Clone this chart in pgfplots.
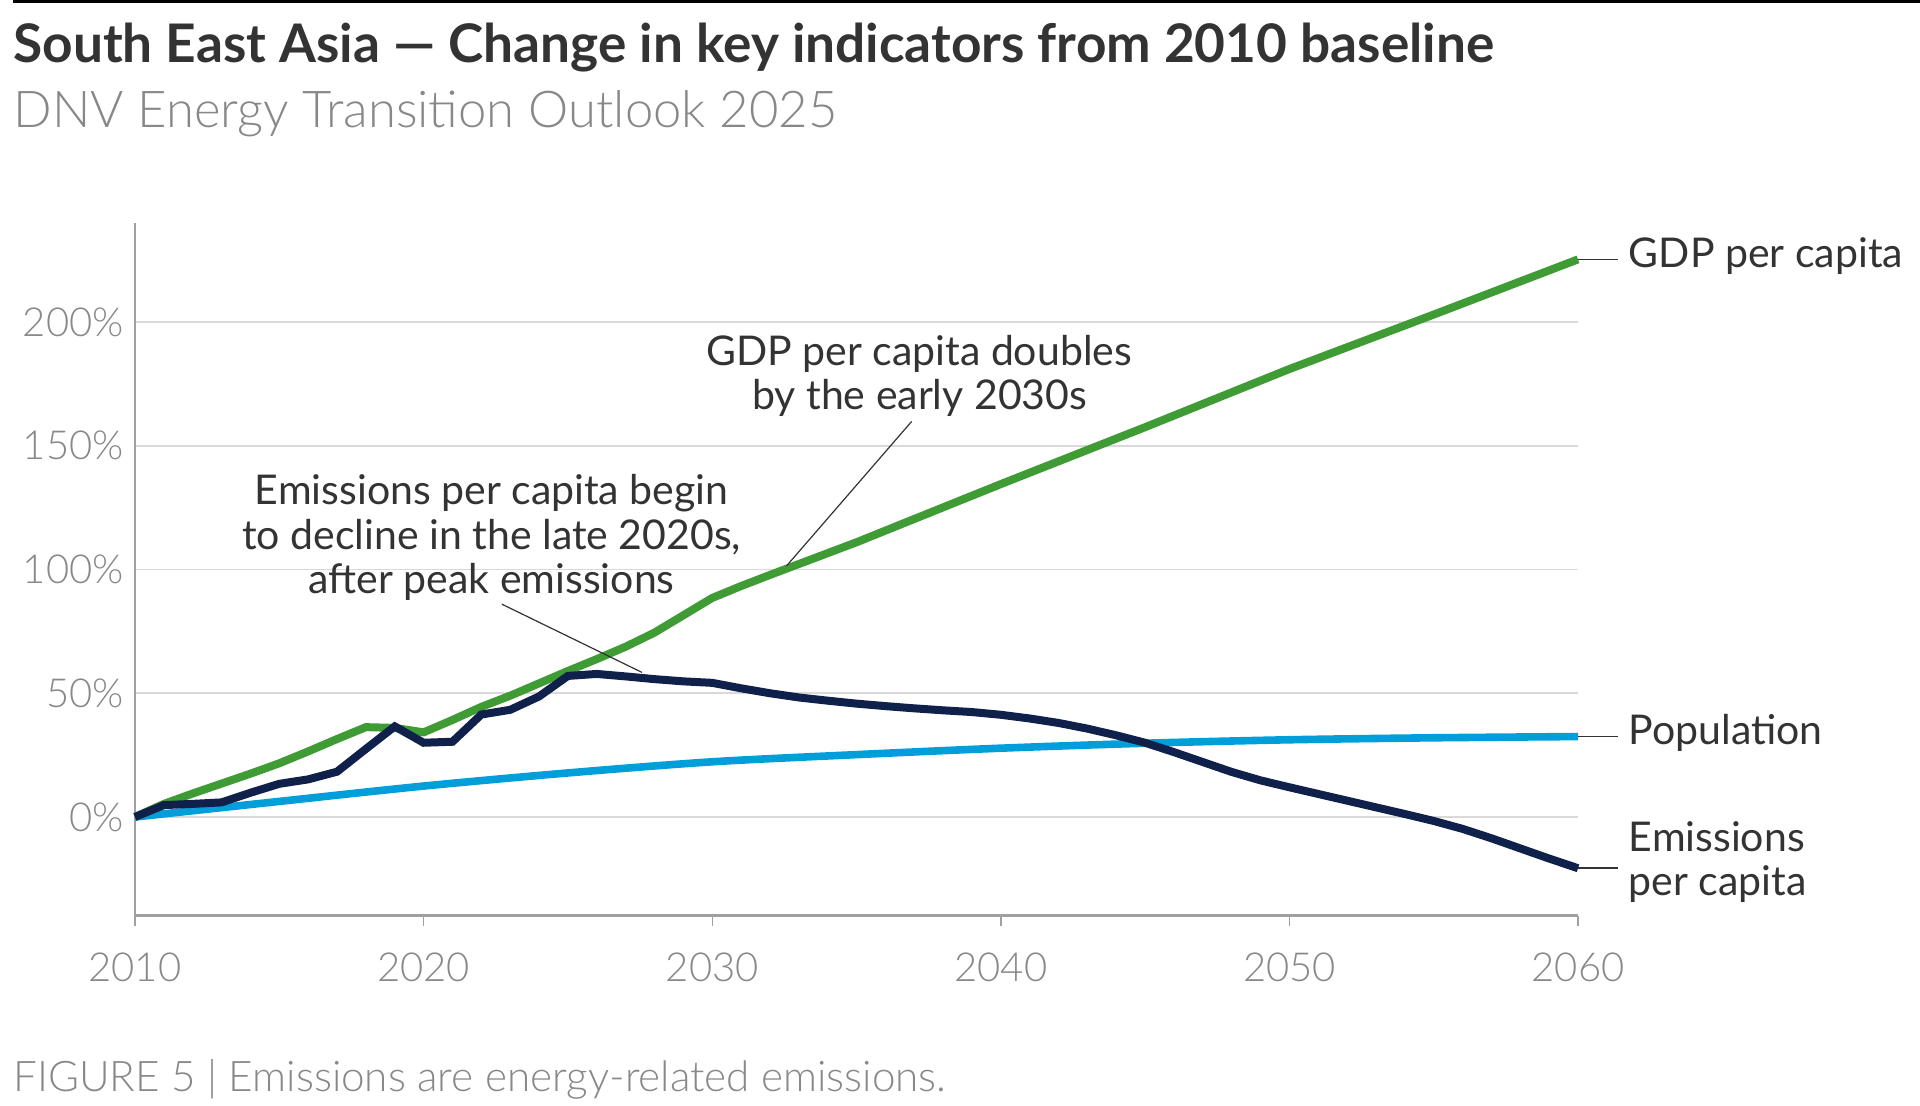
\documentclass[border=0pt]{standalone}
\usepackage{fontspec}
\setmainfont{Lato}
\IfFontExistsTF{Lato Light}{\newfontfamily\lightfont{Lato Light}}{\newfontfamily\lightfont{Lato}}
\usepackage{pgfplots}
\pgfplotsset{compat=1.18}

\definecolor{gdp}{HTML}{3F9C35}
\definecolor{pop}{HTML}{009FDA}
\definecolor{emis}{HTML}{0F204B}
\definecolor{txt}{HTML}{333333}
\definecolor{ticktxt}{HTML}{888888}
\definecolor{gridc}{HTML}{D9D9D9}
\definecolor{axisc}{HTML}{A0A0A0}

\tikzset{lbl/.style={inner sep=0pt, text=txt, font=\fontsize{20.5}{24}\selectfont}}

\pgfplotstableread{
year gdp
2010 0
2011 5.3
2012 9.5
2013 13.5
2014 17.5
2015 21.7
2016 26.5
2017 31.5
2018 36.3
2019 36.0
2020 34.2
2021 39.2
2022 44.5
2023 49.0
2024 54.0
2025 59.0
2026 63.8
2027 68.8
2028 74.5
2029 81.5
2030 88.5
2031 93.3
2032 97.8
2033 102.2
2034 106.6
2035 111.0
2040 134.5
2045 157.5
2050 181.0
2055 203.0
2060 225.3
}\gdptab

\pgfplotstableread{
year pop
2010 0
2015 6.3
2020 12.5
2025 17.8
2030 22.3
2035 25.2
2040 27.8
2045 29.8
2050 31.2
2055 32.0
2060 32.5
}\poptab

\pgfplotstableread{
year emis
2010 0
2011 4.8
2012 5.3
2013 5.9
2014 9.8
2015 13.4
2016 15.2
2017 18.3
2018 27.5
2019 36.6
2020 30.0
2021 30.4
2022 41.4
2023 43.3
2024 48.7
2025 57.0
2026 57.8
2027 56.8
2028 55.7
2029 54.8
2030 54.2
2031 52.0
2032 50.0
2033 48.3
2034 47.0
2035 45.8
2036 44.8
2037 43.9
2038 43.1
2039 42.4
2040 41.3
2041 39.8
2042 38.0
2043 35.7
2044 33.0
2045 30.0
2046 26.2
2047 22.2
2048 18.2
2049 14.8
2050 12.0
2051 9.3
2052 6.6
2053 3.9
2054 1.2
2055 -1.6
2056 -4.8
2057 -8.6
2058 -12.7
2059 -16.8
2060 -20.7
}\emistab

\begin{document}
\begin{tikzpicture}
\path[use as bounding box] (0,0) rectangle (960pt,553pt);
\draw[line width=1.5pt, black] (6.5pt,552.25pt) -- (960pt,552.25pt);

\node[anchor=base west, inner sep=0pt, text=txt, font=\fontsize{26.6}{30}\selectfont\bfseries]
  at (6.5pt,521.5pt) {South East Asia — Change in key indicators from 2010 baseline};
\node[anchor=base west, inner sep=0pt, text=ticktxt, font=\lightfont\fontsize{25.4}{30}\selectfont]
  at (6.5pt,489pt) {DNV Energy Transition Outlook 2025};
\node[anchor=base west, inner sep=0pt, text=ticktxt, font=\lightfont\fontsize{21.1}{24}\selectfont]
  at (6.5pt,7.2pt) {FIGURE 5 | Emissions are energy-related emissions.};

\begin{axis}[
    at={(67.5pt,95pt)}, anchor=south west,
    scale only axis, width=721.5pt, height=346.5pt,
    xmin=2010, xmax=2060, ymin=-40, ymax=240,
    axis x line=bottom, axis y line=left,
    x axis line style={-, draw=axisc, line width=1.5pt},
    y axis line style={-, draw=axisc, line width=0.7pt},
    xtick={2010,2020,...,2060},
    ytick={0,50,...,200},
    tick align=outside,
    xtick style={draw=axisc, line width=0.7pt},
    ytick style={draw=none},
    major tick length=5pt,
    ymajorgrids,
    grid style={draw=gridc, line width=0.8pt},
    /pgf/number format/assume math mode=true,
    /pgf/number format/1000 sep={},
    yticklabel={\pgfmathprintnumber{\tick}\%},
    ticklabel style={font=\lightfont\fontsize{20}{24}\selectfont, text=ticktxt},
    yticklabel style={anchor=east, inner sep=0pt, xshift=-0.5pt},
    xticklabel style={anchor=north, inner sep=0pt, yshift=-13pt},
    clip=false,
]
\addplot[draw=pop, line width=3.8pt, smooth, tension=0.5] table[x=year, y=pop] {\poptab};
\addplot[draw=gdp, line width=4pt] table[x=year, y=gdp] {\gdptab};
\addplot[draw=emis, line width=4pt] table[x=year, y=emis] {\emistab};

% leaders to the right-hand labels
\draw[txt, line width=0.7pt] (axis cs:2060,225.2) -- (axis cs:2061.39,225.2);
\draw[txt, line width=0.7pt] (axis cs:2060,32.5) -- (axis cs:2061.39,32.5);
\draw[txt, line width=0.7pt] (axis cs:2060,-20.64) -- (axis cs:2061.39,-20.64);
\node[lbl, anchor=base west] at (axis cs:2061.75,222.06) {GDP per capita};
\node[lbl, anchor=base west] at (axis cs:2061.75,29.36) {Population};
\node[lbl, anchor=base west] at (axis cs:2061.75,-14.0) {Emissions};
\node[lbl, anchor=base west] at (axis cs:2061.75,-31.8) {per capita};

% annotations
\node[lbl, anchor=base] at (axis cs:2037.17,182.27) {GDP per capita doubles};
\node[lbl, anchor=base] at (axis cs:2037.19,164.8) {by the early 2030s};
\draw[txt, line width=0.6pt] (axis cs:2036.91,159.8) -- (axis cs:2032.58,101.5);
\node[lbl, anchor=base] at (axis cs:2022.36,126.13) {Emissions per capita begin};
\node[lbl, anchor=base] at (axis cs:2022.36,108.24) {to decline in the late 2020s,};
\node[lbl, anchor=base] at (axis cs:2022.36,90.31) {after peak emissions};
\draw[txt, line width=0.6pt] (axis cs:2022.71,86.0) -- (axis cs:2027.57,58.4);
\end{axis}
\end{tikzpicture}
\end{document}
